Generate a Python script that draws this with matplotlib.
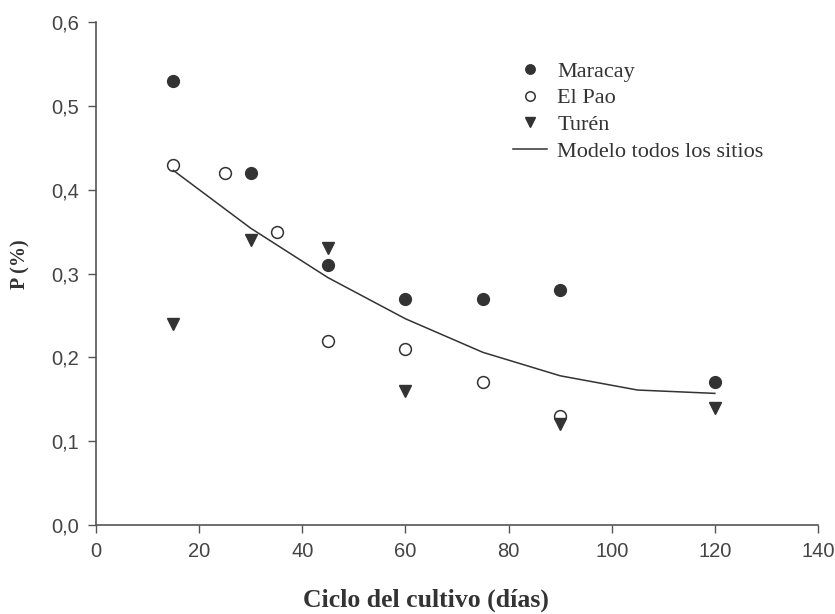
import numpy as np
import matplotlib
matplotlib.use('Agg')
import matplotlib.pyplot as plt
from matplotlib.ticker import FuncFormatter

# datos
dias_maracay = [15, 30, 45, 60, 75, 90, 120]
p_maracay = [0.53, 0.42, 0.31, 0.27, 0.27, 0.28, 0.17]

dias_pao = [15, 25, 35, 45, 60, 75, 90]
p_pao = [0.43, 0.42, 0.35, 0.22, 0.21, 0.17, 0.13]

dias_turen = [15, 30, 45, 60, 90, 120]
p_turen = [0.24, 0.34, 0.33, 0.16, 0.12, 0.14]

# modelo todos los sitios
dias_modelo = [15, 30, 45, 60, 75, 90, 105, 120]
p_modelo = [0.423, 0.354, 0.295, 0.246, 0.206, 0.178, 0.161, 0.157]

gris = '#333333'
eje = '#555555'
W, H = 835, 614

fig = plt.figure(figsize=(W / 100, H / 100), dpi=100)
ax = fig.add_axes([96 / W, 1 - 525 / H, (818 - 96) / W, (525 - 22) / H])

ax.plot(dias_maracay, p_maracay, 'o', color=gris, ms=8.5, mec=gris, label='Maracay', clip_on=False)
ax.plot(dias_pao, p_pao, 'o', mfc='white', mec=gris, mew=1.1, ms=8.5, label='El Pao', clip_on=False)
ax.plot(dias_turen, p_turen, 'v', color=gris, ms=9, label='Turén', clip_on=False)
ax.plot(dias_modelo, p_modelo, '-', color=gris, lw=1.1, label='Modelo todos los sitios')

ax.set_xlim(0, 140)
ax.set_ylim(0, 0.6)
ax.set_xticks(np.arange(0, 141, 20))
ax.set_yticks(np.arange(0, 0.61, 0.1))
ax.yaxis.set_major_formatter(FuncFormatter(lambda v, p: ('%.1f' % v).replace('.', ',')))

for s in ['top', 'right']:
    ax.spines[s].set_visible(False)
for s in ['left', 'bottom']:
    ax.spines[s].set_color(eje)
    ax.spines[s].set_linewidth(1.2)

ax.tick_params(direction='out', length=6, width=1, color=eje, labelcolor='#444444',
               labelsize=14.5, pad=6)
for lb in ax.get_xticklabels() + ax.get_yticklabels():
    lb.set_family('Liberation Sans')

# titulos de ejes
fig.text(426 / W, 1 - 600 / H, 'Ciclo del cultivo (días)', family='Liberation Serif',
         fontweight='bold', fontsize=18.5, color=gris, ha='center', va='center')
fig.text(20 / W, 1 - 264 / H, 'P (%)', family='Liberation Serif', fontweight='bold',
         fontsize=14.5, color=gris, ha='center', va='center', rotation=90)

leg = ax.legend(loc='upper left', bbox_to_anchor=(513 / W, 1 - 61 / H),
                bbox_transform=fig.transFigure, frameon=False, borderpad=0, borderaxespad=0,
                prop={'family': 'Liberation Serif', 'size': 16}, markerscale=0.8,
                handlelength=1.55, handletextpad=0.45, labelspacing=0.28)
for t in leg.get_texts():
    t.set_color(gris)

fig.savefig('out.png', dpi=100, facecolor='white')
